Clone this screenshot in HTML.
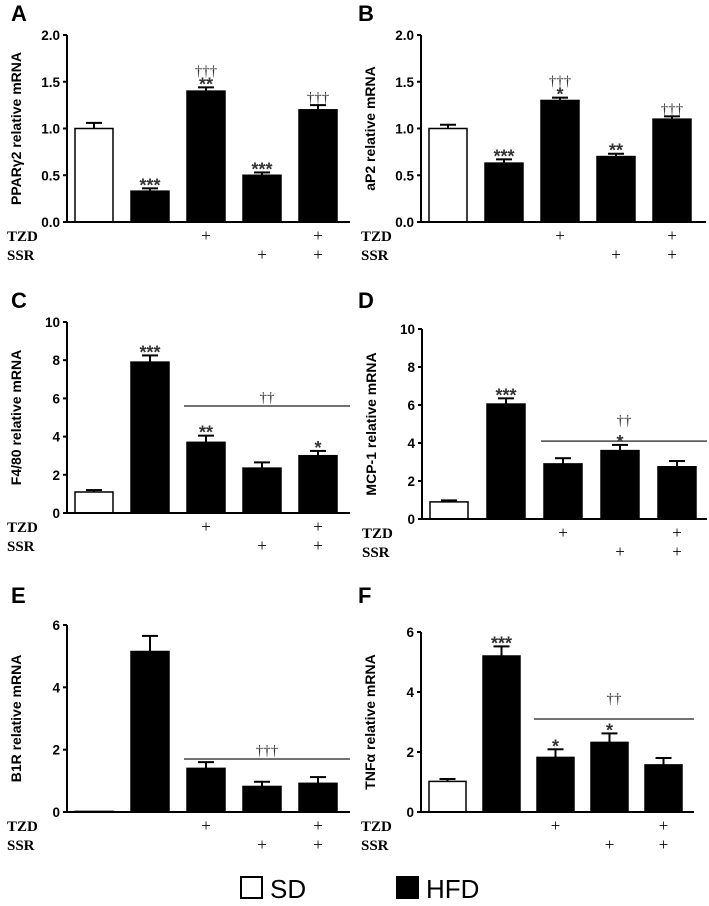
<!DOCTYPE html>
<html><head><meta charset="utf-8"><style>
body{margin:0;background:#fff;width:709px;height:906px;overflow:hidden}
svg{display:block}
</style></head><body>
<svg id="fig" width="709" height="906" font-family="Liberation Sans, sans-serif"></svg>
<script>
// Panel data
const groupLabels = ["SD","HFD","HFD+TZD","HFD+SSR","HFD+TZD+SSR"];
const aValues = [1.0, 0.33, 1.4, 0.5, 1.2];
const aErrors = [0.06, 0.03, 0.04, 0.03, 0.05];
const aStars = ["", "***", "**", "***", ""];
const aDaggers = ["", "", "†††", "", "†††"];
const bValues = [1.0, 0.63, 1.3, 0.7, 1.1];
const bErrors = [0.04, 0.04, 0.03, 0.03, 0.03];
const bStars = ["", "***", "*", "**", ""];
const bDaggers = ["", "", "†††", "", "†††"];
const cValues = [1.1, 7.9, 3.7, 2.35, 3.0];
const cErrors = [0.1, 0.35, 0.35, 0.3, 0.25];
const cStars = ["", "***", "**", "", "*"];
const dValues = [0.9, 6.05, 2.9, 3.6, 2.75];
const dErrors = [0.08, 0.3, 0.3, 0.3, 0.3];
const dStars = ["", "***", "", "*", ""];
const eValues = [0.02, 5.15, 1.4, 0.82, 0.92];
const eErrors = [0.0, 0.5, 0.2, 0.15, 0.2];
const eStars = ["", "", "", "", ""];
const fValues = [1.02, 5.2, 1.82, 2.32, 1.57];
const fErrors = [0.08, 0.32, 0.27, 0.3, 0.23];
const fStars = ["", "***", "*", "*", ""];
const yTicksA = [0, 0.5, 1.0, 1.5, 2.0];
const yTicksC = [0, 2, 4, 6, 8, 10];
const yTicksE = [0, 2, 4, 6];
const sigLineC = 5.6, sigLineD = 4.1, sigLineE = 1.7, sigLineF = 3.1;

const NS = "http://www.w3.org/2000/svg";
const svg = document.getElementById('fig');
function mk(tag, attrs, parent){
  const e = document.createElementNS(NS, tag);
  for (const k in attrs) e.setAttribute(k, attrs[k]);
  (parent||svg).appendChild(e);
  return e;
}
function txt(str, attrs, parent){ const t = mk('text', attrs, parent); t.textContent = str; return t; }

function panel(cfg){
  const g = mk('g', {});
  
  
  const ymax = cfg.ticks[cfg.ticks.length-1];
  const y = v => cfg.base - (v/ymax)*(cfg.base-cfg.top);
  const bx = i => cfg.ax + 8 + i*cfg.step;
  const L = txt(cfg.letter, {x:cfg.lx, y:cfg.ly, 'font-size':22, 'font-weight':'bold'}, g);
  
  
  cfg.values.forEach((v,i)=>{
    const x = bx(i), w = cfg.bw;
    const eb = mk('line', {x1:x+w/2, x2:x+w/2, y1:y(v), y2:y(v+cfg.errors[i]), stroke:'#000','stroke-width':2}, g);
    
    
    if (cfg.errors[i]>0){
      const cap = mk('line', {x1:x+w/2-8, x2:x+w/2+8, y1:y(v+cfg.errors[i]), y2:y(v+cfg.errors[i]), stroke:'#000','stroke-width':2}, g);
      
      
    }
    const r = mk('rect', {x:x, y:y(v), width:w, height:cfg.base-y(v), fill: i===0?'#fff':'#000', stroke:'#000','stroke-width':1.5}, g);
    
    
    const top = y(v+cfg.errors[i]);
    if (cfg.stars[i]){
      const s = txt(cfg.stars[i], {x:x+w/2, y:top+3, 'font-size':18, 'font-weight':'bold', 'text-anchor':'middle', fill:'#333', 'font-family':'Liberation Sans, sans-serif'}, g);
      
      
    }
    if (cfg.daggers && cfg.daggers[i]){
      const d = txt(cfg.daggers[i], {x:x+w/2, y:top-(cfg.stars[i]?12:3), 'font-size':15, 'text-anchor':'middle', fill:'#333', 'font-family':'Liberation Serif, serif'}, g);
      
      
    }
  });
  if (cfg.sig !== undefined){
    const ly = y(cfg.sig);
    const sl = mk('line', {x1:bx(2)-3, x2:cfg.axEnd, y1:ly, y2:ly, stroke:'#444','stroke-width':1.5}, g);
    
    
    const midx = (bx(2)-3+cfg.axEnd)/2;
    const dg = txt(cfg.sigText, {x:midx, y:ly - (cfg.sigStarOffset||4), 'font-size':15, 'text-anchor':'middle', fill:'#333', 'font-family':'Liberation Serif, serif'}, g);
    
    
  }
  const ya = mk('line', {x1:cfg.ax, x2:cfg.ax, y1:cfg.top, y2:cfg.base, stroke:'#000','stroke-width':2}, g);
  
  
  const xa = mk('line', {x1:cfg.ax, x2:cfg.axEnd, y1:cfg.base, y2:cfg.base, stroke:'#000','stroke-width':2}, g);
  
  
  cfg.ticks.forEach(t=>{
    const tk = mk('line', {x1:cfg.ax-4, x2:cfg.ax, y1:y(t), y2:y(t), stroke:'#000','stroke-width':2}, g);
    
    
    const tl = txt(cfg.fmt(t), {x:cfg.ax-7, y:y(t)+5, 'font-size':13.5, 'font-weight':'bold', 'text-anchor':'end'}, g);
    
    
  });
  const cy = (cfg.top+cfg.base)/2, tx = cfg.ax-46;
  const yt = txt(cfg.title, {x:tx, y:cy, 'font-size':14, 'font-weight':'bold', 'text-anchor':'middle', transform:`rotate(-90 ${tx} ${cy})`}, g);
  
  
  const rowY = [cfg.base+19, cfg.base+38];
  const rl1 = txt('TZD', {x:cfg.ax-60, y:rowY[0], 'font-size':15, 'font-weight':'bold', 'font-family':'Liberation Serif, serif'}, g);
  
  
  const rl2 = txt('SSR', {x:cfg.ax-60, y:rowY[1], 'font-size':15, 'font-weight':'bold', 'font-family':'Liberation Serif, serif'}, g);
  
  
  const plus = [[2,0],[4,0],[3,1],[4,1]];
  plus.forEach(p=>{
    const pt = txt('+', {x:bx(p[0])+cfg.bw/2, y:rowY[p[1]], 'font-size':17, 'text-anchor':'middle', 'font-family':'Liberation Serif, serif'}, g);
    
    
  });
}
const f1 = t=>t.toFixed(1), f0 = t=>String(t);
panel({letter:'A', lx:11, ly:21, ax:67, axEnd:350, top:35, base:222, step:56, bw:38, ticks:yTicksA, fmt:f1, values:aValues, errors:aErrors, stars:aStars, daggers:aDaggers, title:'PPARγ2 relative mRNA'});
panel({letter:'B', lx:358, ly:21, ax:421, axEnd:706, top:35, base:222, step:56, bw:38, ticks:yTicksA, fmt:f1, values:bValues, errors:bErrors, stars:bStars, daggers:bDaggers, title:'aP2 relative mRNA'});
panel({letter:'C', lx:11, ly:308, ax:67, axEnd:350, top:322, base:513, step:56, bw:38, ticks:yTicksC, fmt:f0, values:cValues, errors:cErrors, stars:cStars, sig:sigLineC, sigText:'††', title:'F4/80 relative mRNA'});
panel({letter:'D', lx:358, ly:308, ax:422, axEnd:707, top:329, base:519, step:57, bw:38, ticks:yTicksC, fmt:f0, values:dValues, errors:dErrors, stars:dStars, sig:sigLineD, sigText:'††', sigStarOffset:16, title:'MCP-1 relative mRNA'});
panel({letter:'E', lx:11, ly:603, ax:67, axEnd:350, top:625, base:812, step:56, bw:38, ticks:yTicksE, fmt:f0, values:eValues, errors:eErrors, stars:eStars, sig:sigLineE, sigText:'†††', title:'B1R relative mRNA'});
panel({letter:'F', lx:358, ly:603, ax:421, axEnd:694, top:632, base:812, step:54, bw:37, ticks:yTicksE, fmt:f0, values:fValues, errors:fErrors, stars:fStars, sig:sigLineF, sigText:'††', sigStarOffset:16, title:'TNFα relative mRNA'});

const lg = mk('g', {});


const l1 = mk('rect', {x:241, y:877, width:21, height:21, fill:'#fff', stroke:'#000', 'stroke-width':2}, lg);


const t1 = txt('SD', {x:270, y:898, 'font-size':26}, lg);


const l2 = mk('rect', {x:397, y:877, width:21, height:21, fill:'#000', stroke:'#000', 'stroke-width':2}, lg);


const t2 = txt('HFD', {x:426, y:898, 'font-size':26}, lg);


</script>
</body></html>
